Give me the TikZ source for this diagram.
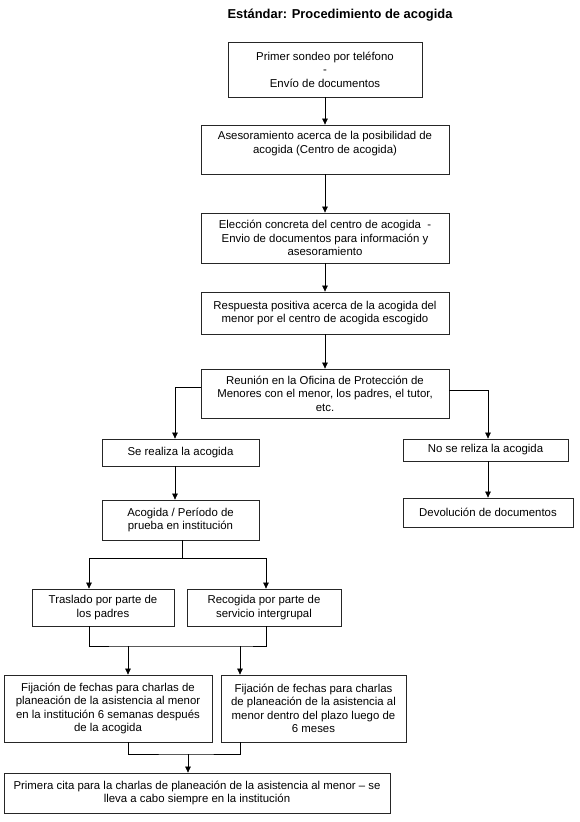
\documentclass[tikz,border=0pt]{standalone}
\usepackage{fontspec}
\setmainfont{Liberation Sans}
\usetikzlibrary{arrows.meta}
\begin{document}
\begin{tikzpicture}[x=1pt,y=-1pt,
  box/.style={draw=black!85,line width=0.8pt,rectangle,inner sep=2pt,align=center,
    font=\fontsize{11.4}{13.5}\selectfont},
  txt/.style={inner sep=0pt,align=center,font=\fontsize{11.4}{13.5}\selectfont},
  arr/.style={line width=0.7pt,-{Triangle[length=6pt,width=5.5pt]}},
  ln/.style={line width=0.7pt}]
\useasboundingbox[fill=white] (0,0) rectangle (580,822);
\node[font=\bfseries\fontsize{12.9}{15}\selectfont] (title) at (340,15) {Estándar: Procedimiento de acogida};
\node[box,minimum width=194pt,minimum height=55pt] (b1) at (325,69.5) {Primer sondeo por teléfono\\-\\Envío de documentos};
\node[box,minimum width=248pt,minimum height=49pt] (b2) at (325,149.5) {};
\node[txt] (t2) at ([yshift=6pt]b2.center) {Asesoramiento acerca de la posibilidad de\\acogida (Centro de acogida)};
\node[box,minimum width=248pt,minimum height=50pt] (b3) at (325,238) {Elección concreta del centro de acogida~~-\\Envio de documentos para información y\\asesoramiento};
\node[box,minimum width=248pt,minimum height=42pt] (b4) at (325,313) {Respuesta positiva acerca de la acogida del\\menor por el centro de acogida escogido};
\node[box,minimum width=248pt,minimum height=49pt] (b5) at (325,393.5) {Reunión en la Oficina de Protección de\\Menores con el menor, los padres, el tutor,\\etc.};
\node[box,minimum width=157pt,minimum height=27pt] (b6) at (180.5,452.5) {Se realiza la acogida};
\node[box,minimum width=165pt,minimum height=22pt] (b7) at (485.5,450) {No se reliza la acogida};
\node[box,minimum width=157pt,minimum height=40pt] (b8) at (180.5,520) {Acogida / Período de\\prueba en institución};
\node[box,minimum width=170pt,minimum height=29pt] (b9) at (488,512.5) {Devolución de documentos};
\node[box,minimum width=142pt,minimum height=37pt] (b10) at (103,607.5) {Traslado por parte de\\los padres};
\node[box,minimum width=154pt,minimum height=37pt] (b11) at (264,607.5) {Recogida por parte de\\servicio intergrupal};
\node[box,minimum width=208pt,minimum height=67pt] (b12) at (108,708.5) {Fijación de fechas para charlas de\\planeación de la asistencia al menor\\en la institución 6 semanas después\\de la acogida};
\node[box,minimum width=185pt,minimum height=67pt] (b13) at (313.5,708.5) {Fijación de fechas para charlas\\de planeación de la asistencia al\\menor dentro del plazo luego de\\6 meses};
\node[box,minimum width=386pt,minimum height=40pt] (b14) at (197,793) {Primera cita para la charlas de planeación de la asistencia al menor – se\\lleva a cabo siempre en la institución};
% connectors
\draw[arr] (b1) -- (b2);
\draw[arr] (b2) -- (b3);
\draw[arr] (b3) -- (b4);
\draw[arr] (b4) -- (b5);
\draw[arr] ([yshift=6.5pt]b5.west) -| ([xshift=-5.5pt]b6.north);
\draw[arr] ([yshift=3.5pt]b5.east) -| ([xshift=2.5pt]b7.north);
\draw[arr] ([xshift=-5.5pt]b6.south) -- ([xshift=-5.5pt]b8.north);
\draw[arr] ([xshift=2.5pt]b7.south) -- (b9.north);
\coordinate (s1) at (182,558);
\draw[ln] ([xshift=1.5pt]b8.south) -- (s1);
\draw[arr] (s1) -| ([xshift=-14pt]b10.north);
\draw[arr] (s1) -| ([xshift=2pt]b11.north);
\coordinate (s2) at (128,646);
\coordinate (s3) at (240,646);
\draw[ln] ([xshift=-14pt]b10.south) |- (s2) -- (s3) -| ([xshift=2pt]b11.south);
\draw[arr] (s2) -- ([xshift=20pt]b12.north);
\draw[arr] (s3) -- ([xshift=-73.5pt]b13.north);
\coordinate (s4) at (188,754);
\draw[ln] ([xshift=20pt]b12.south) |- (s4) -| ([xshift=-73.5pt]b13.south);
\draw[arr] (s4) -- ([xshift=-9pt]b14.north);
\end{tikzpicture}
\end{document}
